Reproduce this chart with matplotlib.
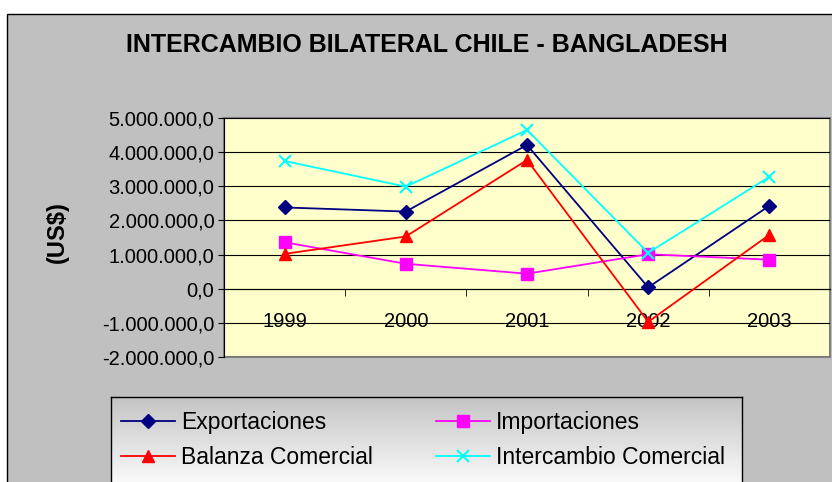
import matplotlib.pyplot as plt
import matplotlib.patches as mpatches
import matplotlib.ticker as mticker
import matplotlib.colors as mcolors
import numpy as np

plt.rcParams['font.family'] = ['Liberation Sans', 'DejaVu Sans']

years = ['1999', '2000', '2001', '2002', '2003']
exportaciones = [2380000, 2260000, 4210000, 40000, 2430000]
importaciones = [1360000, 730000, 440000, 1010000, 850000]
balanza = [1020000, 1530000, 3770000, -970000, 1580000]
intercambio = [3740000, 2990000, 4650000, 1050000, 3280000]

fig = plt.figure(figsize=(8.32, 4.82), dpi=100)
fig.patch.set_facecolor('white')

# grey chart area with black border
fig.patches.append(mpatches.Rectangle((7 / 832, -0.1), 1.0, 1 - 14 / 482 + 0.1,
                                      transform=fig.transFigure, facecolor='#C0C0C0',
                                      edgecolor='black', linewidth=1.0, zorder=-10))

ax = fig.add_axes([224 / 832, 125 / 482, 606 / 832, 239 / 482])
ax.set_facecolor('#FFFFCC')

x = np.arange(len(years))
h_exp, = ax.plot(x, exportaciones, color='#000080', marker='D', markersize=7, lw=1.3,
                 label='Exportaciones', zorder=5)
h_imp, = ax.plot(x, importaciones, color='#FF00FF', marker='s', markersize=8, lw=1.3,
                 label='Importaciones', zorder=5)
h_bal, = ax.plot(x, balanza, color='#FF0000', marker='^', markersize=9, lw=1.3,
                 label='Balanza Comercial', zorder=5)
h_int, = ax.plot(x, intercambio, color='#00FFFF', marker='x', markersize=9, mew=1.5, lw=1.3,
                 label='Intercambio Comercial', zorder=5)

ax.set_xlim(-0.5, 4.5)
ax.set_ylim(-2000000, 5000000)
ax.yaxis.set_major_locator(mticker.MultipleLocator(1000000))
ax.yaxis.set_major_formatter(mticker.FuncFormatter(
    lambda v, p: f"{v:,.1f}".replace(',', 'X').replace('.', ',').replace('X', '.')))
ax.grid(axis='y', color='black', lw=0.8, zorder=1)
ax.set_axisbelow(True)

ax.spines['bottom'].set_position(('data', 0))
ax.spines['bottom'].set_color('black')
ax.spines['left'].set_color('black')
for s in ['top', 'right']:
    ax.spines[s].set_visible(False)
ax.add_patch(mpatches.Rectangle((0, 0), 1, 1, transform=ax.transAxes, fill=False,
                                edgecolor='#808080', lw=1.5, zorder=0.5, clip_on=False))

ax.set_xticks(x)
ax.set_xticklabels(years, fontsize=14.5)
ax.set_xticks(np.arange(0.5, 4.5, 1), minor=True)
ax.tick_params(axis='x', which='major', length=0, pad=17)
ax.tick_params(axis='x', which='minor', length=5, direction='out', color='black')
ax.tick_params(axis='y', length=4, direction='out', labelsize=14.5, pad=3)

fig.text(57 / 832, 1 - 232 / 482, '(US$)', rotation=90, ha='center', va='center',
         fontsize=17, fontweight='bold')
fig.text(427 / 832, 1 - 45 / 482, 'INTERCAMBIO BILATERAL CHILE - BANGLADESH',
         ha='center', va='center', fontsize=18, fontweight='bold')

# legend box with gradient background
lx, ly, lw_, lh = 111 / 832, -0.02, 631 / 832, 1 - 397 / 482 + 0.02
gax = fig.add_axes([lx, ly, lw_, lh])
grad = np.linspace(0, 1, 100).reshape(-1, 1)
gax.imshow(grad, aspect='auto', origin='lower', extent=[0, 1, 0, 1],
           cmap=mcolors.LinearSegmentedColormap.from_list('g', ['#FFFFFF', '#C4C4C4']))
gax.set_xticks([])
gax.set_yticks([])
for s in gax.spines.values():
    s.set_color('black')
    s.set_linewidth(1.0)

leg = fig.legend([h_exp, h_bal, h_imp, h_int],
                 ['Exportaciones', 'Balanza Comercial', 'Importaciones', 'Intercambio Comercial'],
                 loc='upper left', bbox_to_anchor=(121 / 832, 1 - 411 / 482),
                 ncol=2, fontsize=16.5, frameon=False,
                 handlelength=2.36, handletextpad=0.26, borderaxespad=0, borderpad=0,
                 labelspacing=0.53, columnspacing=2.75)

fig.savefig('out.png', dpi=100)
